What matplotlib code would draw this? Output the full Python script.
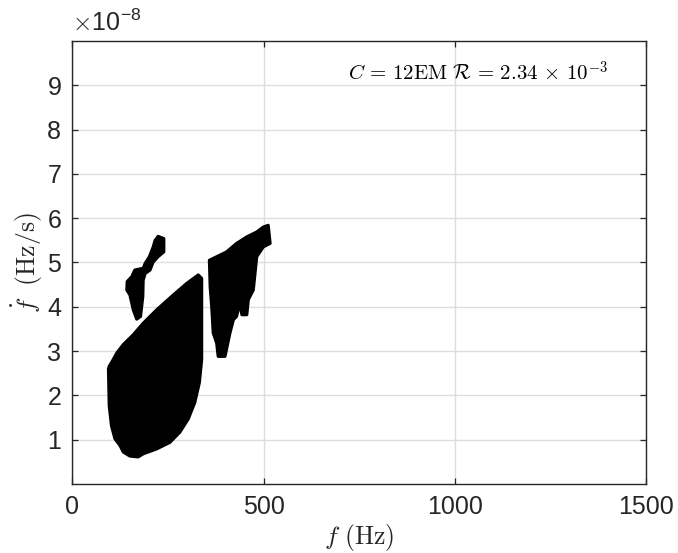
import matplotlib
matplotlib.use("Agg")
import matplotlib.pyplot as plt

plt.rcParams['font.family'] = ['Liberation Sans', 'DejaVu Sans']
plt.rcParams['mathtext.fontset'] = 'cm'

# ---- data (f in Hz, fdot in units of 1e-8 Hz/s) : outlines of the filled regions ----
main_f = [329, 338, 338, 332, 320, 303, 281, 255, 220, 185, 172, 150, 133, 124, 111, 102,
          96, 94, 96, 102, 116, 133, 159, 185, 220, 264, 299]
main_fdot = [4.72, 4.64, 2.81, 2.29, 1.84, 1.47, 1.17, 0.94, 0.79, 0.68, 0.61, 0.63, 0.72,
             0.87, 1.02, 1.31, 1.76, 2.59, 2.66, 2.74, 2.96, 3.15, 3.37, 3.63, 3.93, 4.27, 4.53]

small_f = [224, 239, 239, 224, 211, 203, 190, 185, 184, 178, 168, 159, 150, 142, 143, 155,
           163, 185, 190, 201, 211, 216]
small_fdot = [5.59, 5.54, 5.24, 5.13, 5.01, 4.83, 4.75, 4.60, 4.23, 3.78, 3.72, 3.93, 4.27,
              4.38, 4.57, 4.68, 4.83, 4.87, 4.98, 5.13, 5.35, 5.50]

right_f = [512, 517, 499, 482, 473, 460, 456, 443, 438, 429, 421, 412, 399, 381, 377, 368,
           364, 360, 358, 377, 403, 429, 456, 482, 499]
right_fdot = [5.84, 5.43, 5.35, 5.13, 4.38, 4.16, 3.82, 3.82, 4.08, 3.78, 3.71, 3.41, 2.88,
              2.88, 3.18, 3.41, 4.01, 4.45, 5.05, 5.13, 5.24, 5.43, 5.58, 5.69, 5.80]

xticks = [0, 500, 1000, 1500]
xticklabels = ['0', '500', '1000', '1500']
yticks = [1, 2, 3, 4, 5, 6, 7, 8, 9]
yticklabels = ['1', '2', '3', '4', '5', '6', '7', '8', '9']
annotation = r'$C\,=\,12\mathrm{EM}\ \mathcal{R}\,=\,2.34\,\times\,10^{-3}$'

# ---- figure ----
fig = plt.figure(figsize=(6.78, 5.53), dpi=100)
ax = fig.add_axes([0.1069, 0.1248, 0.9528 - 0.1069, 0.9259 - 0.1248])

for fx, fy in [(main_f, main_fdot), (small_f, small_fdot), (right_f, right_fdot)]:
    ax.fill(fx, fy, facecolor='black', edgecolor='black', linewidth=2.2,
            joinstyle='round', zorder=3)

ax.set_xlim(0, 1500)
ax.set_ylim(0, 10)
ax.set_xticks(xticks)
ax.set_xticklabels(xticklabels)
ax.set_yticks(yticks)
ax.set_yticklabels(yticklabels)

ax.grid(True, color='#dedede', linewidth=1.0, zorder=0)
ax.set_axisbelow(True)

dark = '#262626'
for s in ax.spines.values():
    s.set_color(dark)
    s.set_linewidth(1.0)
ax.tick_params(direction='in', top=True, right=True, length=4, width=0.9,
               color=dark, labelcolor=dark, labelsize=18, pad=8)

ax.set_xlabel(r'$f\ (\mathrm{Hz})$', fontsize=18.5, color=dark, labelpad=2)
ax.set_ylabel(r'$\dot{f}\ \ (\mathrm{Hz/s})$', fontsize=18.5, color=dark, labelpad=2)

ax.text(0.0, 1.012, r'$\times$10$^{\mathregular{-8}}$', transform=ax.transAxes,
        ha='left', va='bottom', fontsize=18, color=dark)

ax.text(0.934, 0.91, annotation, transform=ax.transAxes, ha='right',
        va='baseline', fontsize=15, color='black')

fig.savefig('out.png', dpi=100)
